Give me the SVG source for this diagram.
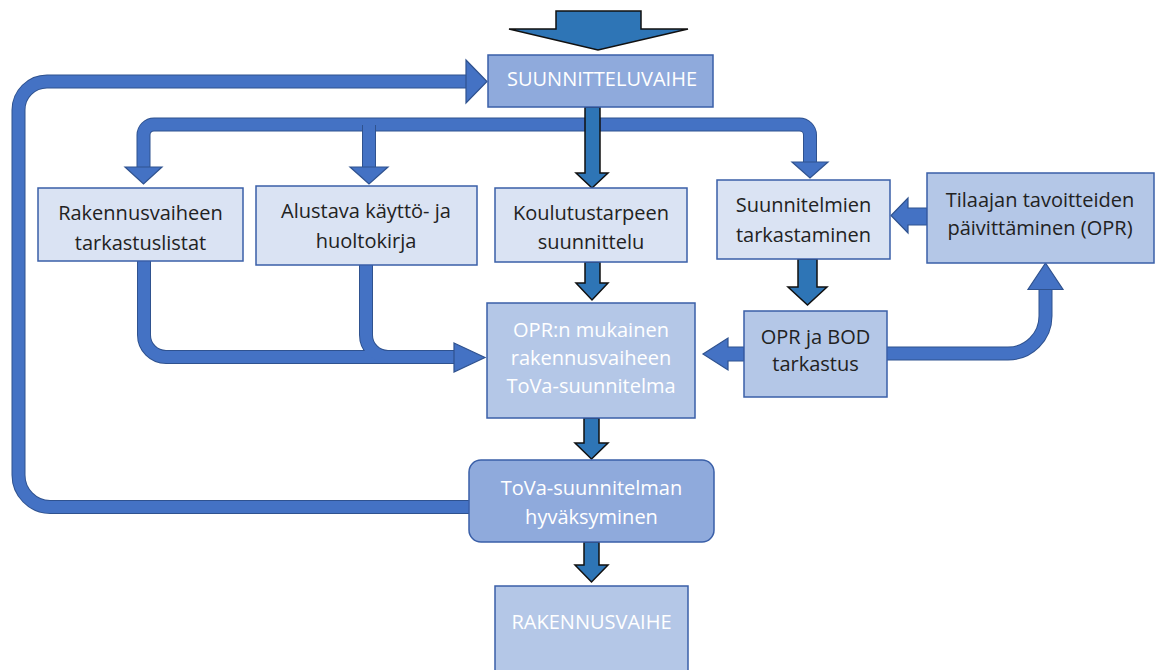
<svg xmlns="http://www.w3.org/2000/svg" width="1158" height="670" viewBox="0 0 1158 670">
  <style>
    .box { stroke: #3A5FA8; stroke-width: 1.5; }
    .light { fill: #DAE3F3; }
    .mid { fill: #B4C7E7; }
    .strong { fill: #8FAADC; }
    .lbl { font-family: "Open Sans", "Liberation Sans", sans-serif; font-size: 20px; text-anchor: middle; }
    .dark { fill: #222222; }
    .white { fill: #FFFFFF; }
    .pipe-edge { fill: none; stroke: #2F528F; stroke-width: 14; }
    .pipe { fill: none; stroke: #4472C4; stroke-width: 12; }
    .head { fill: #4472C4; stroke: #2F528F; stroke-width: 1.2; stroke-linejoin: miter; }
    .block { fill: #2E75B6; stroke: #111111; stroke-width: 1.5; stroke-linejoin: miter; }
  </style>

  <rect width="1158" height="670" fill="#FFFFFF"/>

  <!-- connectors -->
  <g id="connectors">
    <!-- entry arrow into the design phase -->
    <path class="block" d="M556,11 H641 V29 H688 L598,50 L509,29 H556 Z"/>

    <!-- feedback loop: approval back to design phase -->
    <path class="pipe-edge" d="M470,507 H50 A32,32 0 0 1 18.5,475 V110 A28.5,28.5 0 0 1 47,81.5 H468"/>
    <path class="pipe" d="M470,507 H50 A32,32 0 0 1 18.5,475 V110 A28.5,28.5 0 0 1 47,81.5 H468"/>
    <path class="head" d="M466,60 L487,81.5 L466,103 Z"/>

    <!-- branch bar from design phase -->
    <path class="pipe-edge" d="M143.5,168 V135 A10.5,10.5 0 0 1 154,124.5 H799.5 A10.5,10.5 0 0 1 810,135 V163"/>
    <path class="pipe" d="M143.5,168 V135 A10.5,10.5 0 0 1 154,124.5 H799.5 A10.5,10.5 0 0 1 810,135 V163"/>
    <path class="pipe-edge" d="M369,125 V168"/>
    <path class="pipe" d="M369,124 V168"/>
    <path class="head" d="M125,167 H162 L143.5,184 Z"/>
    <path class="head" d="M350,167 H388 L369,184 Z"/>
    <path class="head" d="M792,162 H828 L810,178 Z"/>

    <!-- central column -->
    <path class="block" d="M585,107 H600 V173 H608 L592,188 L576,173 H585 Z"/>
    <path class="block" d="M585,262 H600 V283 H608 L592,300 L576,283 H585 Z"/>
    <path class="block" d="M584,418 H599 V443 H608 L591.5,459 L575,443 H584 Z"/>
    <path class="block" d="M584,542 H599 V565 H608 L591.5,582 L575,565 H584 Z"/>

    <!-- plan review to OPR/BOD check -->
    <path class="block" d="M798,259 H817 V287 H827 L807.5,305 L788,287 H798 Z"/>

    <!-- owner goals back to plan review -->
    <path class="head" d="M927,208 H908 V198 L891,215.5 L908,233 V225 H927 Z"/>

    <!-- OPR/BOD check into commissioning plan -->
    <path class="head" d="M744,347 H728 V338 L703,354 L728,370 V361 H744 Z"/>

    <!-- OPR/BOD check up to owner goals -->
    <path class="pipe-edge" d="M887,353.5 H1008 A37.5,37.5 0 0 0 1045.5,316 V289"/>
    <path class="pipe" d="M887,353.5 H1008 A37.5,37.5 0 0 0 1045.5,316 V289"/>
    <path class="head" d="M1028,289.5 H1063 L1045.5,263 Z"/>

    <!-- checklists and O&M manual into commissioning plan -->
    <path class="pipe-edge" d="M144,261 V335 A22,22 0 0 0 166,357 H456"/>
    <path class="pipe-edge" d="M366,265 V335 A22,22 0 0 0 388,357 H456"/>
    <path class="pipe" d="M144,261 V335 A22,22 0 0 0 166,357 H456"/>
    <path class="pipe" d="M366,265 V335 A22,22 0 0 0 388,357 H456"/>
    <path class="head" d="M454,343 L485,357.5 L454,372 Z"/>
  </g>

  <!-- nodes -->
  <g id="suunnitteluvaihe">
    <rect class="box strong" x="488" y="55" width="225" height="52"/>
    <text class="lbl white" x="602" y="86">SUUNNITTELUVAIHE</text>
  </g>

  <g id="tarkastuslistat">
    <rect class="box light" x="38" y="188" width="205" height="73"/>
    <text class="lbl dark" x="140.5" y="220">Rakennusvaiheen</text>
    <text class="lbl dark" x="140.5" y="250">tarkastuslistat</text>
  </g>

  <g id="huoltokirja">
    <rect class="box light" x="256" y="186" width="221" height="79"/>
    <text class="lbl dark" x="366" y="218">Alustava käyttö- ja</text>
    <text class="lbl dark" x="366" y="248">huoltokirja</text>
  </g>

  <g id="koulutustarve">
    <rect class="box light" x="495" y="188" width="192" height="74"/>
    <text class="lbl dark" x="591" y="220">Koulutustarpeen</text>
    <text class="lbl dark" x="591" y="249">suunnittelu</text>
  </g>

  <g id="suunnitelmien-tarkastus">
    <rect class="box light" x="717" y="180" width="173" height="79"/>
    <text class="lbl dark" x="803.5" y="212">Suunnitelmien</text>
    <text class="lbl dark" x="803.5" y="242">tarkastaminen</text>
  </g>

  <g id="tilaajan-tavoitteet">
    <rect class="box mid" x="927" y="173" width="227" height="90"/>
    <text class="lbl dark" x="1040" y="207">Tilaajan tavoitteiden</text>
    <text class="lbl dark" x="1040" y="235">päivittäminen (OPR)</text>
  </g>

  <g id="tova-suunnitelma">
    <rect class="box mid" x="487" y="303" width="208" height="115"/>
    <text class="lbl white" x="591" y="337">OPR:n mukainen</text>
    <text class="lbl white" x="591" y="365">rakennusvaiheen</text>
    <text class="lbl white" x="591" y="393">ToVa-suunnitelma</text>
  </g>

  <g id="opr-bod">
    <rect class="box mid" x="744" y="311" width="143" height="86"/>
    <text class="lbl dark" x="815.5" y="344">OPR ja BOD</text>
    <text class="lbl dark" x="815.5" y="371">tarkastus</text>
  </g>

  <g id="hyvaksyminen">
    <rect class="box strong" x="469" y="460" width="245" height="82" rx="12" ry="12"/>
    <text class="lbl white" x="591.5" y="495">ToVa-suunnitelman</text>
    <text class="lbl white" x="591.5" y="524">hyväksyminen</text>
  </g>

  <g id="rakennusvaihe">
    <rect class="box mid" x="495" y="586" width="193" height="90"/>
    <text class="lbl white" x="591.5" y="629">RAKENNUSVAIHE</text>
  </g>
</svg>
